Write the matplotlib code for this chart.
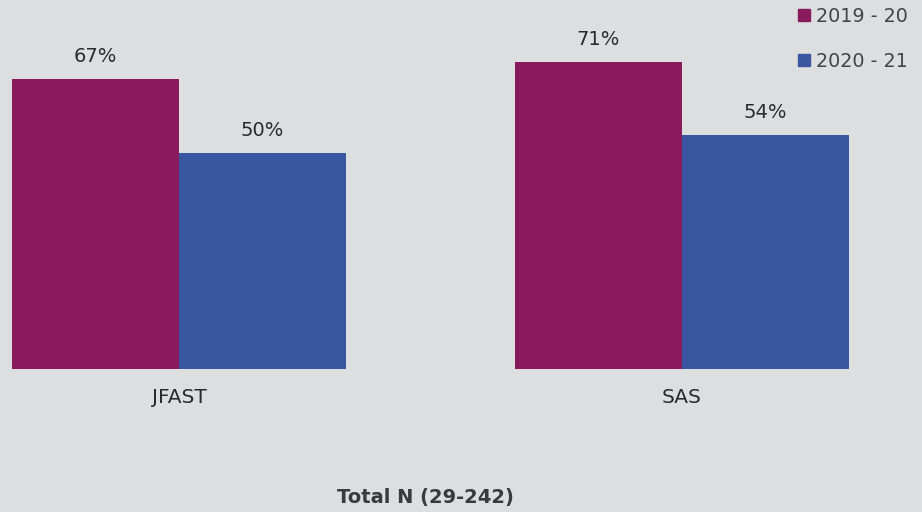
import numpy as np
import matplotlib
matplotlib.use('Agg')
import matplotlib.pyplot as plt
import matplotlib.patches as mpatches

categories = ['JFAST', 'SAS']
series_names = ['2019 - 20', '2020 - 21']
values_2019 = [67, 71]
values_2020 = [50, 54]
colors = ['#8a1a5e', '#3a56a0']

plt.rcParams['font.family'] = ['DejaVu Sans']
bg = '#dddee0'
text_color = '#2b2b2b'

fig = plt.figure(figsize=(9.22, 5.12), dpi=100)
fig.patch.set_facecolor(bg)
ax = fig.add_axes([0, 143 / 512, 1, 369 / 512])
ax.set_facecolor(bg)

x = np.arange(len(categories))
w = 0.332
bars1 = ax.bar(x - w / 2, values_2019, w, color=colors[0], label=series_names[0])
bars2 = ax.bar(x + w / 2, values_2020, w, color=colors[1], label=series_names[1])

for bars in (bars1, bars2):
    for b in bars:
        ax.text(b.get_x() + b.get_width() / 2, b.get_height() + 3.0, f'{b.get_height():.0f}%',
                ha='center', va='bottom', fontsize=14, color=text_color)

ax.set_xlim(-179 / 503, (922 - 179) / 503)
ax.set_ylim(0, 369 / 4.33)
ax.set_xticks([])
ax.set_yticks([])
for s in ax.spines.values():
    s.set_visible(False)

for i, c in enumerate(categories):
    ax.text(x[i], -6.5, c, ha='center', va='center', fontsize=14.5, color=text_color)

fig.text(425 / 922, 1 - 497 / 512, 'Total N (29-242)', ha='center', va='center',
         fontsize=14, fontweight='bold', color='#3a3a3a')

handles = [mpatches.Patch(color=colors[0], label=series_names[0]),
           mpatches.Patch(color=colors[1], label=series_names[1])]
leg = fig.legend(handles=handles, loc='upper right', bbox_to_anchor=(1.003, 1.02),
                 frameon=False, fontsize=13.8, handlelength=0.6, handleheight=0.6,
                 handletextpad=0.3, labelspacing=1.35, labelcolor='#444444')

fig.savefig('out.png', dpi=100, facecolor=bg)
